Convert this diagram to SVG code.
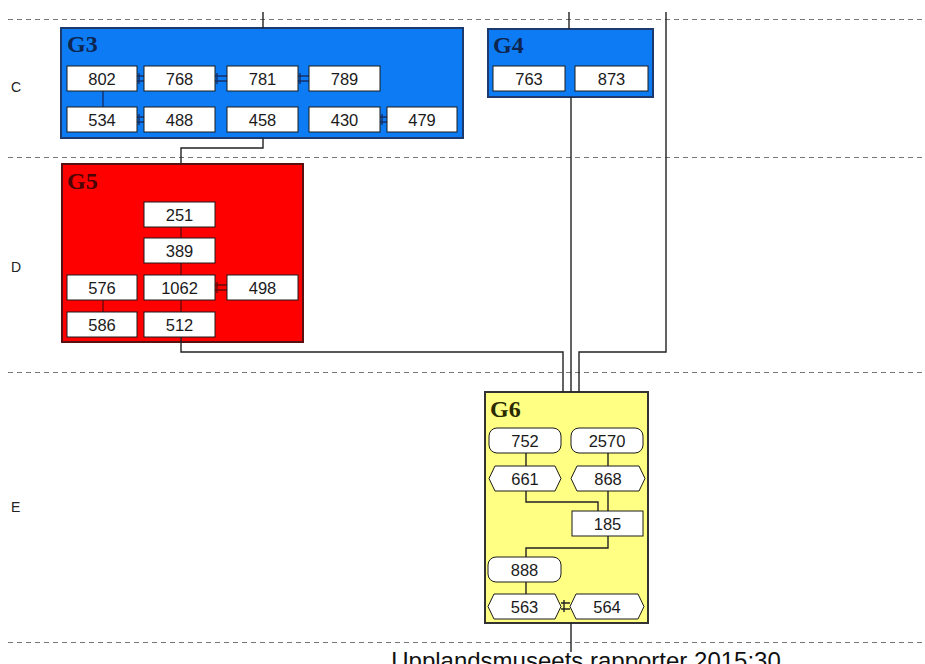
<svg xmlns="http://www.w3.org/2000/svg" width="925" height="664" viewBox="0 0 925 664">
<style>
.dash{stroke:#777;stroke-width:1;stroke-dasharray:5,4;fill:none}
.lane{font-family:"Liberation Sans",Arial,sans-serif;font-size:14px;fill:#222}
.gt{font-family:"Liberation Serif","Times New Roman",serif;font-weight:bold;font-size:24px}
.n{fill:#fff;stroke:#1a1a1a;stroke-width:1}
.t{font-family:"Liberation Sans",Arial,sans-serif;font-size:16.5px;fill:#1a1a1a;text-anchor:middle}
.c{stroke:#222;stroke-width:1.4;fill:none}
.ci{stroke-width:1.4;fill:none}
</style>
<rect width="925" height="664" fill="#fff"/>
<g id="lanes">
<line class="dash" x1="8" y1="19.5" x2="925" y2="19.5"/>
<line class="dash" x1="8" y1="157.5" x2="925" y2="157.5"/>
<line class="dash" x1="8" y1="372.5" x2="925" y2="372.5"/>
<line class="dash" x1="8" y1="642.5" x2="925" y2="642.5"/>
<text class="lane" x="11" y="92">C</text>
<text class="lane" x="11" y="272">D</text>
<text class="lane" x="11" y="512">E</text>
</g>
<g id="G3">
<rect x="61" y="28" width="402" height="110" fill="#0d7cf4" stroke="#1c3a6e" stroke-width="2"/>
<text class="gt" x="67" y="52" fill="#0e2550">G3</text>
<g stroke="#15306a" class="ci">
<line x1="103" y1="91" x2="103" y2="107"/>
<path d="M137 76H144M137 81H144M139 73V84"/>
<path d="M215 76H227M215 81H227M217 73V84"/>
<path d="M298 76H309M298 81H309M300 73V84"/>
<path d="M137 117H144M137 122H144M139 114V125"/>
<path d="M380 117H387M380 122H387M382 114V125"/>
</g>
<g id="n802"><rect class="n" x="67" y="66" width="70" height="25"/><text class="t" x="102" y="85">802</text></g>
<g id="n768"><rect class="n" x="144" y="66" width="71" height="25"/><text class="t" x="179.5" y="85">768</text></g>
<g id="n781"><rect class="n" x="227" y="66" width="71" height="25"/><text class="t" x="262.5" y="85">781</text></g>
<g id="n789"><rect class="n" x="309" y="66" width="71" height="25"/><text class="t" x="344.5" y="85">789</text></g>
<g id="n534"><rect class="n" x="67" y="107" width="70" height="25"/><text class="t" x="102" y="126">534</text></g>
<g id="n488"><rect class="n" x="144" y="107" width="71" height="25"/><text class="t" x="179.5" y="126">488</text></g>
<g id="n458"><rect class="n" x="227" y="107" width="71" height="25"/><text class="t" x="262.5" y="126">458</text></g>
<g id="n430"><rect class="n" x="309" y="107" width="71" height="25"/><text class="t" x="344.5" y="126">430</text></g>
<g id="n479"><rect class="n" x="387" y="107" width="70" height="25"/><text class="t" x="422" y="126">479</text></g>
</g>
<g id="G4">
<rect x="488" y="29" width="165" height="68" fill="#0d7cf4" stroke="#1c3a6e" stroke-width="2"/>
<text class="gt" x="493" y="53" fill="#0e2550">G4</text>
<g id="n763"><rect class="n" x="493" y="66" width="72" height="25"/><text class="t" x="529" y="85">763</text></g>
<g id="n873"><rect class="n" x="575" y="66" width="73" height="25"/><text class="t" x="611.5" y="85">873</text></g>
</g>
<g id="G5">
<rect x="62" y="164" width="241" height="178" fill="#ff0000" stroke="#5a1010" stroke-width="2"/>
<text class="gt" x="67" y="189" fill="#4a0505">G5</text>
<g stroke="#6a0a0a" class="ci">
<line x1="181" y1="227" x2="181" y2="238"/>
<line x1="181" y1="263" x2="181" y2="275"/>
<line x1="181" y1="300" x2="181" y2="312"/>
<line x1="103" y1="300" x2="103" y2="312"/>
<path d="M215 285H227M215 290H227M217 282V293"/>
</g>
<g id="n251"><rect class="n" x="144" y="202" width="71" height="25"/><text class="t" x="179.5" y="221">251</text></g>
<g id="n389"><rect class="n" x="144" y="238" width="71" height="25"/><text class="t" x="179.5" y="257">389</text></g>
<g id="n576"><rect class="n" x="67" y="275" width="70" height="25"/><text class="t" x="102" y="294">576</text></g>
<g id="n1062"><rect class="n" x="144" y="275" width="71" height="25"/><text class="t" x="179.5" y="294">1062</text></g>
<g id="n498"><rect class="n" x="227" y="275" width="71" height="25"/><text class="t" x="262.5" y="294">498</text></g>
<g id="n586"><rect class="n" x="67" y="312" width="70" height="25"/><text class="t" x="102" y="331">586</text></g>
<g id="n512"><rect class="n" x="144" y="312" width="71" height="25"/><text class="t" x="179.5" y="331">512</text></g>
</g>
<g id="G6">
<rect x="485" y="392" width="163" height="231" fill="#ffff84" stroke="#333" stroke-width="2"/>
<text class="gt" x="490" y="417" fill="#2a2a00">G6</text>
<g stroke="#222" class="ci">
<line x1="526" y1="453" x2="526" y2="466"/>
<line x1="608" y1="453" x2="608" y2="466"/>
<path d="M526 491V502H598V511"/>
<line x1="608" y1="491" x2="608" y2="511"/>
<path d="M608 536V548H526V557"/>
<line x1="526" y1="582" x2="526" y2="594"/>
<path d="M561 603H570M561 609H570M564 600V612"/>
</g>
<g id="n752"><rect class="n" x="489" y="428" width="72" height="25" rx="8"/><text class="t" x="525" y="447">752</text></g>
<g id="n2570"><rect class="n" x="571" y="428" width="72" height="25" rx="8"/><text class="t" x="607" y="447">2570</text></g>
<g id="n661"><path class="n" d="M495 466H555L561 478.5L555 491H495L489 478.5Z"/><text class="t" x="525" y="485">661</text></g>
<g id="n868"><path class="n" d="M577 466H639L645 478.5L639 491H577L571 478.5Z"/><text class="t" x="608" y="485">868</text></g>
<g id="n185"><rect class="n" x="572" y="511" width="71" height="25"/><text class="t" x="607.5" y="530">185</text></g>
<g id="n888"><rect class="n" x="488" y="557" width="73" height="25" rx="8"/><text class="t" x="524.5" y="576">888</text></g>
<g id="n563"><path class="n" d="M494 594H555L561 606.5L555 619H494L488 606.5Z"/><text class="t" x="524.5" y="613">563</text></g>
<g id="n564"><path class="n" d="M576 594H638L644 606.5L638 619H576L570 606.5Z"/><text class="t" x="607" y="613">564</text></g>
</g>
<g id="connectors" class="c">
<path d="M263 12V28"/>
<path d="M569 12V29"/>
<path d="M263 138V148H181V164"/>
<path d="M181 337V352H563V392"/>
<path d="M571 97V392"/>
<path d="M666 12V352H579V392"/>
<path d="M571 623V652"/>
</g>
<text x="586" y="669" font-family="Liberation Sans,Arial,sans-serif" font-size="24" fill="#111" text-anchor="middle">Upplandsmuseets rapporter 2015:30</text>
</svg>
